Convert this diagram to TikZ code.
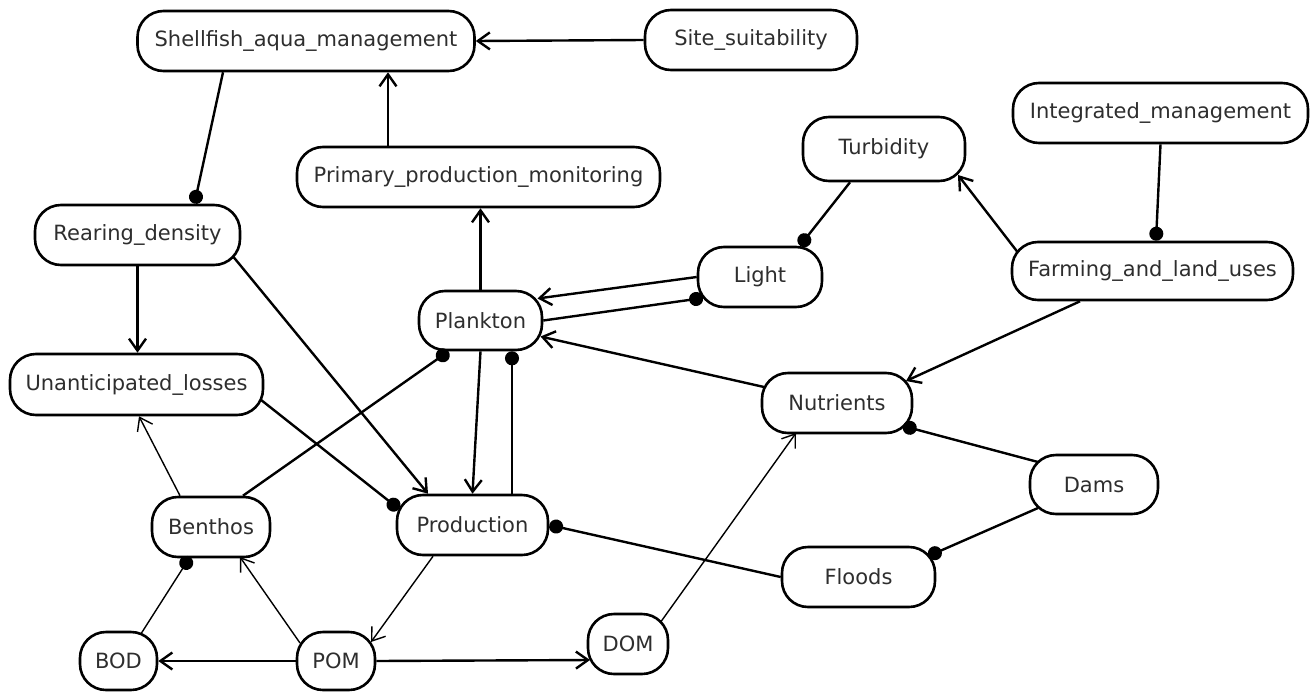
\documentclass[tikz,border=0pt]{standalone}
\usepackage{fontspec}
\setmainfont{DejaVu Sans}
\usetikzlibrary{arrows.meta,calc}
\begin{document}
\begin{tikzpicture}[x=1pt,y=-1pt,
  state/.style={draw=black, line width=2.6pt, rounded corners=26pt, fill=white,
    inner sep=0pt, text=black!82, font=\fontsize{21}{25}\selectfont},
  link/.style={line width=2.4pt},
  fine/.style={line width=1.4pt},
  raises/.style={-{Straight Barb[length=12pt,width=17pt]}},
  lowers/.style={-{Circle[length=14pt]}}]
\fill[white] (0,0) rectangle (1315,691);
\useasboundingbox (0,0) rectangle (1315,691);

% variables of the shellfish aquaculture model
\node[state, minimum width=337pt, minimum height=60pt] (sam)    at (306,41)     {Shellfish\_aqua\_management};
\node[state, minimum width=212pt, minimum height=60pt] (site)   at (751,40)     {Site\_suitability};
\node[state, minimum width=363pt, minimum height=60pt] (ppm)    at (478.5,177)  {Primary\_production\_monitoring};
\node[state, minimum width=162pt, minimum height=64pt] (turb)   at (884,149)    {Turbidity};
\node[state, minimum width=295pt, minimum height=60pt] (integ)  at (1160.5,113) {Integrated\_management};
\node[state, minimum width=281pt, minimum height=58pt] (farm)   at (1152.5,271) {Farming\_and\_land\_uses};
\node[state, minimum width=205pt, minimum height=60pt] (rear)   at (137.5,235)  {Rearing\_density};
\node[state, minimum width=124pt, minimum height=60pt] (light)  at (760,277)    {Light};
\node[state, minimum width=123pt, minimum height=59pt] (plank)  at (480.5,320.5){Plankton};
\node[state, minimum width=253pt, minimum height=61pt] (unant)  at (136.5,384.5){Unanticipated\_losses};
\node[state, minimum width=150pt, minimum height=60pt] (nutr)   at (837,403)    {Nutrients};
\node[state, minimum width=128pt, minimum height=59pt] (dams)   at (1094,484.5) {Dams};
\node[state, minimum width=118pt, minimum height=60pt] (benth)  at (211,527)    {Benthos};
\node[state, minimum width=151pt, minimum height=60pt] (prod)   at (472.5,525)  {Production};
\node[state, minimum width=153pt, minimum height=60pt] (floods) at (858.5,577)  {Floods};
\node[state, minimum width=78pt,  minimum height=58pt] (pom)    at (336,661)    {POM};
\node[state, minimum width=77pt,  minimum height=58pt] (bod)    at (118.5,661)  {BOD};
\node[state, minimum width=80pt,  minimum height=60pt] (dom)    at (628,644)    {DOM};

% influences: open arrow raises, dot lowers
\draw[link,raises] (site.west) -- (sam.east);
\draw[link,raises] ($(ppm.north)+(-90.5,0)$) -- ($(sam.south)+(82,0)$);
\draw[link,lowers] ($(sam.south)+(-83,0)$) -- ($(rear.north)+(57,0)$);
\draw[link,raises] (rear.south) -- (rear.south |- unant.north);
\draw[link,raises] ($(rear)+(96,22)$) -- ($(prod.north)+(-44.5,0)$);
\draw[link,lowers] ($(unant)+(124,15)$) -- ($(prod)+(-73.5,-16)$);
\draw[fine,raises] ($(benth.north)+(-31,0)$) -- ($(unant.south)+(2.5,0)$);
\draw[link,lowers] ($(benth.north)+(32,0)$) -- ($(plank.south)+(-32,0)$);
\draw[link,raises] (plank.north) -- (plank.north |- ppm.south);
\draw[link,raises] (plank.south) -- (prod.north);
\coordinate (pp) at ($(prod.north)+(39.5,0)$);
\draw[link,lowers] (pp) -- (pp |- plank.south);
\draw[link,raises] (light.west) -- ($(plank)+(57,-22)$);
\draw[link,lowers] (plank.east) -- ($(light)+(-57,21)$);
\draw[link,lowers] ($(turb.south)+(-34,0)$) -- ($(light.north)+(40,0)$);
\draw[link,lowers] (integ.south) -- ($(farm.north)+(3.5,0)$);
\draw[link,raises] ($(farm)+(-135,-19)$) -- ($(turb)+(74,26)$);
\draw[link,raises] ($(farm.south)+(-72.5,0)$) -- ($(nutr)+(69,-22)$);
\draw[link,raises] ($(nutr)+(-73,-16)$) -- ($(plank)+(60,16)$);
\draw[link,lowers] ($(dams)+(-56,-22.5)$) -- ($(nutr)+(66,23)$);
\draw[link,lowers] ($(dams)+(-56,23.5)$) -- ($(floods)+(70,-21)$);
\draw[link,lowers] (floods.west) -- (prod.east);
\draw[fine,raises] ($(prod.south)+(-39.5,0)$) -- ($(pom)+(35,-19)$);
\draw[link,raises] (pom.west) -- (bod.east);
\draw[fine,raises] ($(pom)+(-36,-18)$) -- ($(benth)+(29,30)$);
\draw[fine,lowers] ($(bod)+(23,-28)$) -- ($(benth)+(-21,30)$);
\draw[link,raises] (pom.east) -- ($(dom)+(-38,16)$);
\draw[fine,raises] ($(dom)+(32,-21)$) -- ($(nutr)+(-41,30)$);
\end{tikzpicture}
\end{document}
